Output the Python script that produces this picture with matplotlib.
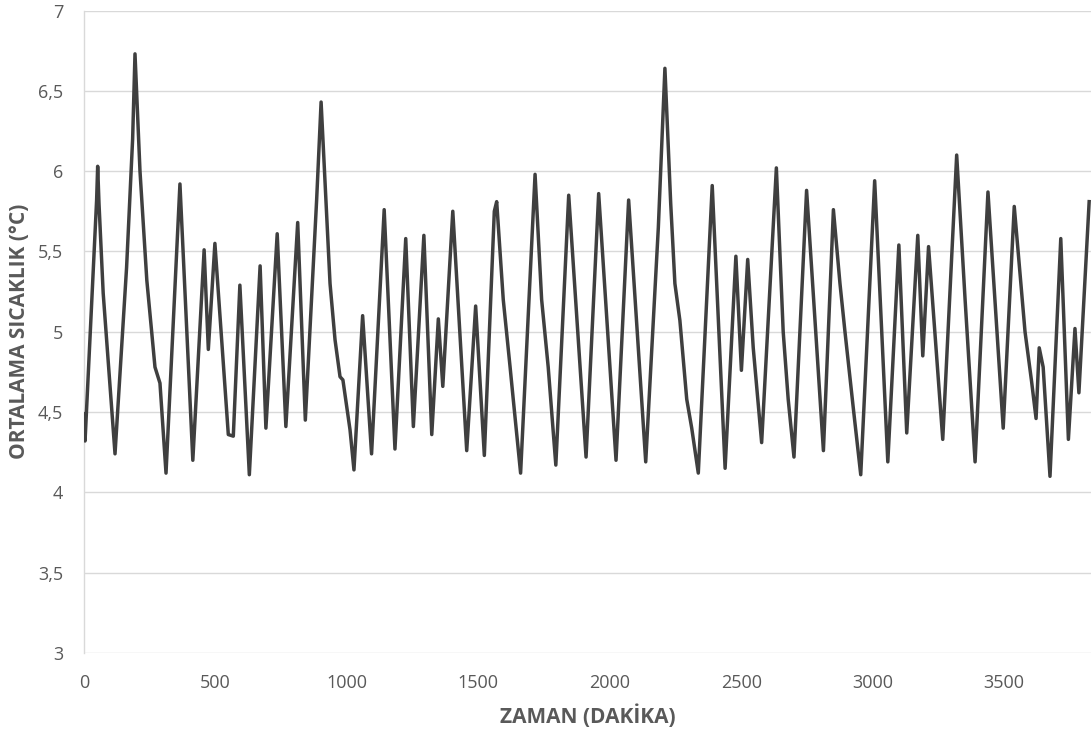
import matplotlib
matplotlib.use("Agg")
import matplotlib.pyplot as plt
from matplotlib.ticker import FuncFormatter, MultipleLocator

# Time (minutes) and mean temperature (°C)
zaman = [0, 4, 48, 52, 57, 73, 118, 162, 185, 194, 213, 239, 258, 270, 289, 312,
         365, 414, 457, 473, 498, 549, 568, 593, 629, 670, 692, 735, 768, 813,
         842, 885, 902, 936, 955, 974, 985, 1012, 1027, 1060, 1094, 1142, 1183,
         1224, 1253, 1293, 1323, 1348, 1365, 1403, 1456, 1490, 1523, 1561, 1570,
         1595, 1621, 1633, 1661, 1716, 1741, 1766, 1795, 1844, 1910, 1958, 2024,
         2072, 2137, 2185, 2210, 2232, 2248, 2267, 2293, 2312, 2337, 2390, 2439,
         2470, 2480, 2501, 2525, 2546, 2578, 2634, 2660, 2679, 2701, 2749, 2813,
         2851, 2876, 2895, 2927, 2955, 3008, 3058, 3100, 3130, 3172, 3191, 3213,
         3267, 3320, 3352, 3390, 3439, 3497, 3539, 3580, 3605, 3622, 3634, 3649,
         3675, 3716, 3745, 3770, 3785, 3824]
sicaklik = [4.49, 4.32, 5.82, 6.03, 5.80, 5.24, 4.24, 5.40, 6.20, 6.73, 6.00, 5.32,
            4.99, 4.78, 4.68, 4.12, 5.92, 4.20, 5.51, 4.89, 5.55, 4.36, 4.35, 5.29,
            4.11, 5.41, 4.40, 5.61, 4.41, 5.68, 4.45, 5.82, 6.43, 5.30, 4.95, 4.72,
            4.70, 4.39, 4.14, 5.10, 4.24, 5.76, 4.27, 5.58, 4.41, 5.60, 4.36, 5.08,
            4.66, 5.75, 4.26, 5.16, 4.23, 5.75, 5.81, 5.20, 4.78, 4.58, 4.12, 5.98,
            5.20, 4.78, 4.17, 5.85, 4.22, 5.86, 4.20, 5.82, 4.19, 5.65, 6.64, 5.80,
            5.30, 5.07, 4.58, 4.40, 4.12, 5.91, 4.15, 5.15, 5.47, 4.76, 5.45, 4.90,
            4.31, 6.02, 5.00, 4.58, 4.22, 5.88, 4.26, 5.76, 5.30, 5.00, 4.52, 4.11,
            5.94, 4.19, 5.54, 4.37, 5.60, 4.85, 5.53, 4.33, 6.10, 5.20, 4.19, 5.87,
            4.40, 5.78, 5.00, 4.69, 4.46, 4.90, 4.78, 4.10, 5.58, 4.33, 5.02, 4.62,
            5.81]

plt.rcParams['font.family'] = ['Open Sans', 'DejaVu Sans']

fig = plt.figure(figsize=(10.91, 7.34), dpi=100)
ax = fig.add_axes([84 / 1091, 1 - 653 / 734, 1 - 84 / 1091, (653 - 10.5) / 734])

ax.plot(zaman, sicaklik, color='#3f3f3f', lw=2.5, solid_joinstyle='round', zorder=3)

ax.set_xlim(0, 3831)
ax.set_ylim(3, 7)
ax.xaxis.set_major_locator(MultipleLocator(500))
ax.yaxis.set_major_locator(MultipleLocator(0.5))
ax.yaxis.set_major_formatter(FuncFormatter(lambda v, p: f"{v:g}".replace('.', ',')))

ax.grid(axis='y', color='#d9d9d9', lw=1)
ax.set_axisbelow(True)
for s in ['top', 'right', 'bottom']:
    ax.spines[s].set_visible(False)
ax.spines['left'].set_color('#d9d9d9')
ax.spines['left'].set_linewidth(1)
ax.tick_params(length=0, labelsize=13, labelcolor='#595959')
ax.tick_params(axis='x', pad=15)
ax.tick_params(axis='y', pad=15)
for lab in ax.get_xticklabels() + ax.get_yticklabels():
    lab.set_fontweight('medium')

ax.set_xlabel('ZAMAN (DAKİKA)', fontsize=15, fontweight='bold', color='#595959', va='center')
ax.set_ylabel('ORTALAMA SICAKLIK (°C)', fontsize=15, fontweight='bold', color='#595959', va='center')
ax.xaxis.set_label_coords(0.5, (653 - 716) / 642.5)
ax.yaxis.set_label_coords((20 - 84) / 1007, 0.5)

fig.savefig('out.png', dpi=100)
